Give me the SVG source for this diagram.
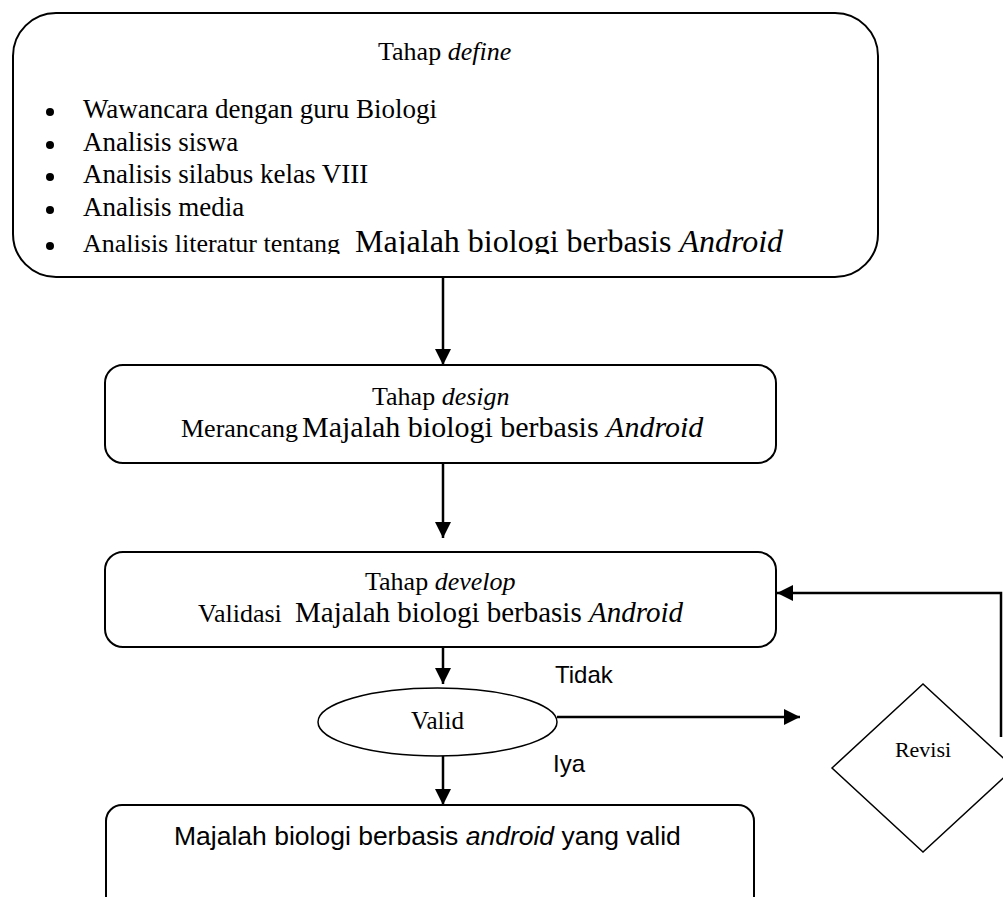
<svg xmlns="http://www.w3.org/2000/svg" width="1003" height="897" viewBox="0 0 1003 897">
<style>
.box{fill:#fff;stroke:#000;stroke-width:2}
.thin{fill:#fff;stroke:#000;stroke-width:1.5}
.serif{font-family:"Liberation Serif","Times New Roman","DejaVu Serif",serif;fill:#000}
.sans{font-family:"Liberation Sans",Arial,sans-serif;fill:#000}
.conn{fill:none;stroke:#000;stroke-width:2.5}
.it{font-style:italic;font-family:"Liberation Serif","Times New Roman","DejaVu Serif",serif}
.sit{font-style:italic}
</style>
<defs>
<marker id="ah" markerUnits="userSpaceOnUse" markerWidth="17" markerHeight="17" refX="16" refY="8" orient="auto">
<path d="M0,0 L16,8 L0,16 Z" fill="#000"/>
</marker>
<clipPath id="clipLast"><rect x="0" y="0" width="1003" height="254"/></clipPath>
</defs>
<rect width="1003" height="897" fill="#fff"/>

<g id="define">
<rect class="box" x="13" y="13" width="865" height="264" rx="43" ry="43"/>
<text class="serif" x="378" y="60" font-size="26">Tahap <tspan class="it">define</tspan></text>
<circle cx="50" cy="112" r="4"/>
<circle cx="50" cy="145" r="4"/>
<circle cx="50" cy="177" r="4"/>
<circle cx="50" cy="210" r="4"/>
<circle cx="50" cy="246" r="4"/>
<text class="serif" x="83" y="118" font-size="27">Wawancara dengan guru Biologi</text>
<text class="serif" x="83" y="151" font-size="27">Analisis siswa</text>
<text class="serif" x="83" y="183" font-size="27">Analisis silabus kelas VIII</text>
<text class="serif" x="83" y="216" font-size="27">Analisis media</text>
<g clip-path="url(#clipLast)">
<text class="serif" x="83" y="252" font-size="26">Analisis literatur tentang <tspan x="355" font-size="32">Majalah biologi berbasis </tspan><tspan font-size="32" class="it">Android</tspan></text>
</g>
</g>

<g id="design">
<rect class="box" x="105" y="365" width="671" height="98" rx="18" ry="18"/>
<text class="serif" x="372" y="405" font-size="26">Tahap <tspan class="it">design</tspan></text>
<text class="serif" x="181" y="437" font-size="26">Merancang <tspan x="302" font-size="30">Majalah biologi berbasis </tspan><tspan font-size="30" class="it">Android</tspan></text>
</g>

<g id="develop">
<rect class="box" x="105" y="552" width="671" height="95" rx="18" ry="18"/>
<text class="serif" x="365" y="590" font-size="26">Tahap <tspan class="it">develop</tspan></text>
<text class="serif" x="198" y="622" font-size="26">Validasi <tspan x="295" font-size="29">Majalah biologi berbasis </tspan><tspan font-size="29" class="it">Android</tspan></text>
</g>

<g id="valid">
<ellipse class="thin" cx="437.5" cy="722" rx="119.5" ry="34"/>
<text class="serif" x="437.5" y="729" font-size="25" text-anchor="middle">Valid</text>
</g>

<g id="revisi">
<polygon class="thin" points="832,768 923,684 1014,768 923,852" stroke-width="1.3"/>
<text class="serif" x="923" y="757" font-size="22" text-anchor="middle">Revisi</text>
</g>

<g id="result">
<rect class="box" x="106" y="805" width="648" height="130" rx="16" ry="16"/>
<text class="sans" x="174" y="845" font-size="26.5">Majalah biologi berbasis <tspan class="sit">android</tspan> yang valid</text>
</g>

<g id="connectors">
<line class="conn" x1="443" y1="277" x2="443" y2="365" marker-end="url(#ah)"/>
<line class="conn" x1="443" y1="463" x2="443" y2="538" marker-end="url(#ah)"/>
<line class="conn" x1="443" y1="647" x2="443" y2="684" marker-end="url(#ah)"/>
<line class="conn" x1="443" y1="756" x2="443" y2="805" marker-end="url(#ah)"/>
<line class="conn" x1="557" y1="717" x2="800" y2="717" marker-end="url(#ah)"/>
<polyline class="conn" points="1001,737 1001,593 777,593" marker-end="url(#ah)"/>
<text class="sans" x="555" y="683" font-size="24">Tidak</text>
<text class="sans" x="553" y="772" font-size="24">Iya</text>
</g>
</svg>
